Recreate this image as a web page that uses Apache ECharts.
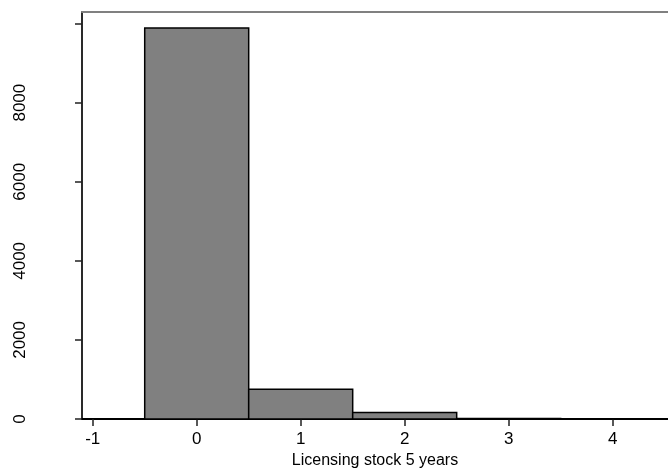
<!DOCTYPE html>
<html>
<head>
<meta charset="utf-8">
<script src="https://cdn.jsdelivr.net/npm/echarts@6/dist/echarts.min.js"></script>
<style>html,body{margin:0;padding:0;background:#fff;}#c{width:668px;height:470px;}</style>
</head>
<body>
<div id="c"></div>
<script>
// Histogram bins (centers, width 1) and frequencies
const binCenters = [0, 1, 2, 3, 4];
const frequencies = [9890, 750, 165, 12, 4];
const binWidth = 1;
const xTickValues = [-1, 0, 1, 2, 3, 4];
const yLabelValues = [0, 2000, 4000, 6000, 8000];
const yTickValues = [0, 2000, 4000, 6000, 8000, 10000];
const xTitle = 'Licensing stock 5 years';

const font = '"Liberation Sans", Arial, Helvetica, sans-serif';
const chart = echarts.init(document.getElementById('c'), null, {renderer: 'canvas'});
chart.setOption({
  animation: false,
  backgroundColor: '#ffffff',
  grid: {left: 82, top: 12, right: 0, bottom: 51, containLabel: false,
         outerBoundsMode: 'none', show: false},
  xAxis: [{
    type: 'value', min: -1.103, max: 4.532,
    name: xTitle, nameLocation: 'middle', nameGap: 32,
    nameTextStyle: {color: '#000', fontSize: 16, fontFamily: font},
    axisLine: {show: true, onZero: false, lineStyle: {color: '#000', width: 2}},
    axisTick: {show: true, length: 7, lineStyle: {color: '#222', width: 1.5}, customValues: xTickValues},
    axisLabel: {show: true, color: '#000', fontSize: 17, fontFamily: font, margin: 12, customValues: xTickValues,
                formatter: v => String(v)},
    splitLine: {show: false}
  }, {
    type: 'value', position: 'top', min: -1.103, max: 4.532,
    axisLine: {show: true, onZero: false, lineStyle: {color: '#808080', width: 2}},
    axisTick: {show: false}, axisLabel: {show: false}, splitLine: {show: false}
  }],
  yAxis: {
    type: 'value', min: 0, max: 10293,
    axisLine: {show: true, onZero: false, lineStyle: {color: '#2a2a2a', width: 2}},
    axisTick: {show: true, length: 7, lineStyle: {color: '#222', width: 1.5}, customValues: yTickValues},
    axisLabel: {show: true, color: '#000', fontSize: 17, fontFamily: font, rotate: 90, margin: 53,
                customValues: yLabelValues, formatter: v => String(v)},
    splitLine: {show: false}
  },
  series: [{
    type: 'custom',
    xAxisIndex: 0,
    data: binCenters.map((c, i) => [c, frequencies[i]]),
    renderItem: function (params, api) {
      const c = api.value(0), f = api.value(1);
      const p0 = api.coord([c - binWidth / 2, f]);
      const p1 = api.coord([c + binWidth / 2, 0]);
      return {
        type: 'rect',
        shape: {x: p0[0], y: p0[1], width: p1[0] - p0[0], height: p1[1] - p0[1]},
        style: {fill: '#808080', stroke: '#000', lineWidth: 1.5}
      };
    }
  }]
});
</script>
</body>
</html>
